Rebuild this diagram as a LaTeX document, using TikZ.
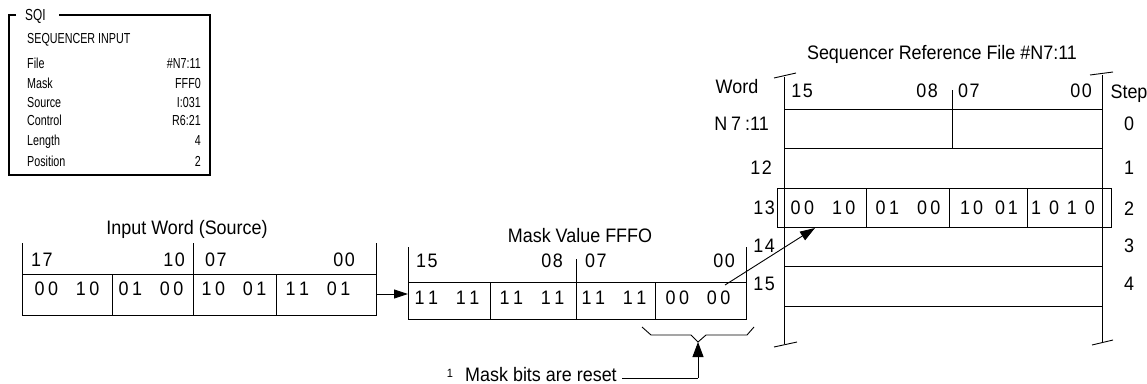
\documentclass[tikz,border=0pt]{standalone}
\usepackage{fontspec}
\setmainfont{Liberation Sans}[FakeStretch=0.92]
\newfontfamily\sqifont{Liberation Sans}[FakeStretch=0.74]
\usetikzlibrary{arrows.meta}
\newcommand{\bitpair}[4]{#1\kern3.5pt#2\hspace{18pt}#3\kern3.5pt#4}
\newcommand{\dd}[2]{#1\kern1.5pt#2}
\begin{document}
\begin{tikzpicture}[x=1pt,y=-1pt,
  ln/.style={line width=0.9pt},
  lbl/.style={font=\fontsize{19.5}{19.5}\selectfont, inner sep=0pt, text height=14pt, text depth=0pt},
  sq/.style={font=\sqifont\fontsize{14.5}{14.5}\selectfont, inner sep=0pt, text height=10.4pt, text depth=0pt},
  arr/.style={ln,-{Triangle[length=14pt,width=9pt]}},
]
\useasboundingbox (0,0) rectangle (1147,383);

% ---------------- SQI instruction box
\draw[line width=1.8pt] (16,15) -- (9,15) -- (9,175) -- (210,175) -- (210,15) -- (59,15);
\node[sq,font=\sqifont\fontsize{16}{16}\selectfont,text height=11.5pt,anchor=west] (sqi) at (25,15) {SQI};
\node[sq,anchor=west] (sqit) at (27,38) {SEQUENCER INPUT};
\node[sq,anchor=west] (lf) at (27,63) {File};
\node[sq,anchor=west] (lm) at (27,83) {Mask};
\node[sq,anchor=west] (ls) at (27,102) {Source};
\node[sq,anchor=west] (lc) at (27,120) {Control};
\node[sq,anchor=west] (ll) at (27,140) {Length};
\node[sq,anchor=west] (lp) at (27,161) {Position};
\node[sq,anchor=east] (vf) at (201,63) {\#N7:11};
\node[sq,anchor=east] (vm) at (201,83) {FFF0};
\node[sq,anchor=east] (vs) at (201,102) {I:031};
\node[sq,anchor=east] (vc) at (201,120) {R6:21};
\node[sq,anchor=east] (vl) at (201,140) {4};
\node[sq,anchor=east] (vp) at (201,161) {2};

% ---------------- Input word
\node[lbl] (inlbl) at (187,227) {Input Word (Source)};
\draw[ln] (22,243) -- (22,315) -- (376,315) -- (376,243);
\draw[ln] (193,243) -- (193,315);
\draw[ln] (22,274) -- (376,274);
\draw[ln] (112,274) -- (112,315);
\draw[ln] (276,274) -- (276,315);
\node[lbl,anchor=west] (in17) at (31,259) {\dd17};
\node[lbl,anchor=east] (in10) at (185,259) {\dd10};
\node[lbl,anchor=west] (in07) at (205,259) {\dd07};
\node[lbl,anchor=east] (in00) at (355,259) {\dd00};
\node[lbl] (ina) at (67,288) {\bitpair0010};
\node[lbl] (inb) at (151,288) {\bitpair0100};
\node[lbl] (inc) at (234,288) {\bitpair1001};
\node[lbl] (ind) at (318,288) {\bitpair1101};
\coordinate (inout) at (376,294);

% ---------------- Mask
\node[lbl] (mklbl) at (580,235) {Mask Value FFFO};
\draw[ln] (408,247) -- (408,319) -- (746,319) -- (746,247);
\draw[ln] (576,259) -- (576,319);
\draw[ln] (408,282) -- (746,282);
\draw[ln] (490,282) -- (490,319);
\draw[ln] (655,282) -- (655,319);
\node[lbl,anchor=west] (mk15) at (416,260) {\dd15};
\node[lbl,anchor=east] (mk08) at (563,260) {\dd08};
\node[lbl,anchor=west] (mk07) at (585,260) {\dd07};
\node[lbl,anchor=east] (mk00) at (735,260) {\dd00};
\node[lbl] (mka) at (447,297) {\bitpair1111};
\node[lbl] (mkb) at (532,297) {\bitpair1111};
\node[lbl] (mkc) at (614,297) {\bitpair1111};
\node[lbl] (mkd) at (698,297) {\bitpair0000};
\coordinate (mkin) at (408,294);
\coordinate (mkout) at (725,285);

\draw[arr] (inout) -- (mkin);

% bracket and note
\draw[ln] (642,327) -- (651,335) -- (691,335) -- (698,342) -- (706,335) -- (747,335) -- (754,327);
\coordinate (brtip) at (698,342);
\coordinate (notecorner) at (698,378);
\coordinate (noteend) at (622,378);
\node[font=\fontsize{12}{12}\selectfont, inner sep=0pt, anchor=north] (sup) at (450,369) {1};
\node[lbl,anchor=west] (note) at (465,374) {Mask bits are reset};
\draw[ln] (noteend) -- (notecorner);
\draw[ln,-{Triangle[length=15pt,width=11pt]}] (notecorner) -- (brtip);

% ---------------- Sequencer reference file
\node[lbl] (sqlbl) at (942,52) {Sequencer Reference File \#N7:11};
\draw[ln] (784,77) -- (784,344);
\draw[ln] (774,78) -- (796,73);
\draw[ln] (774,347) -- (797,342);
\draw[ln] (1102,75) -- (1102,343);
\draw[ln] (1090,75) -- (1113,72);
\draw[ln] (1092,345) -- (1113,340);
\foreach \yy in {109,148,227,266,306} \draw[ln] (784,\yy) -- (1102,\yy);
\draw[ln] (952,90) -- (952,148);
\draw[ln] (777,188) rectangle (1111,227);
\foreach \xx in {866,949,1027} \draw[ln] (\xx,188) -- (\xx,227);
\node[lbl] (sq15) at (802,90) {\dd15};
\node[lbl,anchor=east] (sq08) at (938,90) {\dd08};
\node[lbl,anchor=west] (sq07) at (958,90) {\dd07};
\node[lbl,anchor=east] (sq00) at (1092,90) {\dd00};
\node[lbl] (word) at (737,86) {Word};
\node[lbl,anchor=east] (w11) at (769,123) {N\kern4pt7\kern4pt:11};
\node[lbl,anchor=east] (w12) at (772,167) {\dd12};
\node[lbl,anchor=east] (w13) at (775,207) {\dd13};
\node[lbl,anchor=east] (w14) at (775,245) {\dd14};
\node[lbl,anchor=east] (w15) at (775,283) {\dd15};
\node[lbl] (step) at (1129,91) {Step};
\node[lbl] (s0) at (1129,123) {0};
\node[lbl] (s1) at (1129,167) {1};
\node[lbl] (s2) at (1129,208) {2};
\node[lbl] (s3) at (1129,245) {3};
\node[lbl] (s4) at (1129,283) {4};
\node[lbl] (sqa) at (823,207) {\bitpair0010};
\node[lbl] (sqb) at (908,207) {\bitpair0100};
\node[lbl] (sqc) at (989,207) {1\kern3pt0\hspace{12pt}0\kern3pt1};
\node[lbl] (sqd) at (1063,207) {1\kern8pt0\kern8pt1\kern8pt0};
\coordinate (sqin) at (815,228);

\draw[ln,-{Triangle[length=15pt,width=10pt]}] (mkout) -- (sqin);
\end{tikzpicture}
\end{document}
